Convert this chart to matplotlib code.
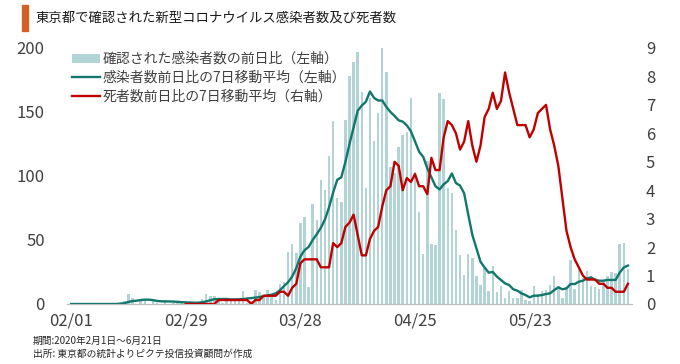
import numpy as np
import pandas as pd
import matplotlib
matplotlib.use("Agg")
import matplotlib.pyplot as plt
from matplotlib.patches import Rectangle, Patch
from matplotlib.lines import Line2D

plt.rcParams['font.family'] = ['Noto Sans CJK JP', 'DejaVu Sans']

# データ (2020/02/01 - 2020/06/16)
dates = pd.date_range('2020-02-01', '2020-06-16')

# 新規感染者数 (前日比)
cases = [0, 0, 0, 0, 0, 0, 0, 0, 0, 0, 0, 0,
         1, 2, 8, 5, 0, 3, 3, 0, 3, 1, 0, 3, 0, 1, 1, 1, 0,
         2, 0, 1, 4, 8, 6, 6, 2, 1, 5, 3, 2, 2, 10, 1, 2, 11, 9, 7, 11, 7, 3,
         16, 17, 41, 47, 40, 63, 68, 13, 78,
         66, 97, 89, 116, 143, 83, 80, 144, 178, 189, 197, 166, 91, 161, 127,
         149, 201, 181, 107, 102, 123, 132, 134, 161, 103, 72, 39, 112, 47, 46,
         165, 160, 91, 87, 58, 38, 23, 39, 36, 22, 15, 28, 10, 30, 9, 14,
         5, 10, 5, 5, 11, 3, 2, 14, 8, 10, 11, 15, 22, 14, 5,
         13, 34, 12, 28, 20, 26, 14, 13, 12, 18, 22, 25, 24, 47, 48, 27]

# 感染者数前日比の7日移動平均 (左軸)
cases_ma = [0, 0, 0, 0, 0, 0, 0, 0, 0, 0, 0, 0,
            0.3, 0.6, 1.6, 2.3, 2.6, 3.1, 3.4, 3.4, 3.0, 2.4, 2.1, 2.0, 2.0, 1.9, 1.7, 1.4, 1.3,
            1.1, 1.0, 1.0, 1.4, 2.0, 3.0, 3.7, 3.9, 3.9, 3.9, 3.6, 3.6, 3.7, 3.9, 4.3, 4.6,
            5.0, 5.4, 6.1, 6.7, 7.3, 8.4,
            10.7, 14.0, 17.0, 21.5, 28.0, 37.0, 42.0, 44.5, 50.0,
            54.5, 59.5, 66.0, 75.5, 87.0, 97.0, 99.0, 111.0, 125.0, 138.0, 151.0, 155.0,
            158.0, 166.0, 161.0, 159.0, 159.0, 154.0, 150.0, 147.0, 143.5, 142.5, 139.5,
            135.0, 127.0, 119.0, 115.0, 106.0, 99.0, 92.0,
            89.5, 93.5, 96.0, 102.0, 94.5, 92.5, 86.5, 70.0, 54.0, 43.5, 33.0, 28.5,
            24.5, 25.0, 21.4, 18.8, 16.1, 14.8, 11.5, 10.4, 8.3, 7.0, 5.2, 6.5, 6.5,
            7.0, 7.8, 8.3, 10.9, 13.0, 11.5,
            12.2, 15.6, 15.6, 17.4, 18.2, 20.0, 20.8, 18.8, 18.2, 18.2, 18.8, 18.8,
            18.8, 24.5, 28.6, 30.0]

# 死者数前日比の7日移動平均 (右軸)
deaths_ma = [None] * 28 + [
    0, 0, 0, 0, 0, 0, 0, 0,
    0.14, 0.14, 0.14, 0.14, 0.14, 0.14, 0.14, 0.14, 0, 0.14, 0.14,
    0.29, 0.29, 0.29, 0.29, 0.43, 0.43, 0.29, 0.57, 0.71,
    1.43, 1.57, 1.57, 1.57, 1.57, 1.29, 1.29, 1.29,
    2.14, 2.0, 2.14, 2.71, 2.86, 3.14, 2.43, 1.71, 1.71, 2.29, 2.57, 2.71,
    3.43, 4.0, 4.14, 5.0, 4.86, 4.0, 4.43, 4.29, 4.57, 4.14, 4.14, 3.86, 5.14, 4.71,
    4.71, 5.86, 6.43, 6.29, 6.0, 5.43, 5.71, 6.43, 5.57, 5.0, 5.57, 6.57, 6.86,
    7.43, 6.86, 7.14, 8.14, 7.43, 6.86, 6.29, 6.29, 6.29, 5.86, 6.14, 6.71, 6.86,
    7.0, 6.14, 5.57, 4.86, 3.71, 2.57, 2.0, 1.57, 1.29, 1.0, 0.86, 0.86, 0.86,
    0.71, 0.71, 0.57, 0.57, 0.43, 0.43, 0.43, 0.71]

tick_pos = [0, 28, 56, 84, 112]
tick_labels = [dates[i].strftime('%m/%d') for i in tick_pos]

x = np.arange(len(dates))
deaths = np.array([np.nan if v is None else v for v in deaths_ma], dtype=float)

c_bar = '#b3d4d7'
c_teal = '#11766c'
c_red = '#c00000'
c_text = '#404040'
num_font = ['Liberation Sans Narrow', 'Noto Sans CJK JP', 'DejaVu Sans']

fig = plt.figure(figsize=(6.8, 3.64), dpi=100)
ax = fig.add_axes([67 / 680, 60 / 364, 565 / 680, 256 / 364])
ax2 = ax.twinx()

ax.bar(x, cases, width=0.6, color=c_bar, zorder=1)
ax.plot(x, cases_ma, color=c_teal, lw=1.7, zorder=3)
ax2.plot(x, deaths, color=c_red, lw=1.7, zorder=3)

ax.set_xlim(-1, 137)
ax.set_ylim(0, 200)
ax2.set_ylim(0, 9)
ax.set_yticks(range(0, 201, 50))
ax2.set_yticks(range(0, 10))
ax.set_xticks(tick_pos)
ax.set_xticklabels(tick_labels)

for a in (ax, ax2):
    for s in ('top', 'left', 'right'):
        a.spines[s].set_visible(False)
    a.spines['bottom'].set_color('#bfbfbf')
    a.tick_params(length=0, labelsize=12, colors=c_text)
    for lab in a.get_xticklabels() + a.get_yticklabels():
        lab.set_family(num_font)
ax.tick_params(axis='y', pad=16)
ax2.tick_params(axis='y', pad=10)
ax.tick_params(axis='x', pad=6)

handles = [Patch(facecolor=c_bar, edgecolor='none'),
           Line2D([], [], color=c_teal, lw=1.7),
           Line2D([], [], color=c_red, lw=1.7)]
labels = ['確認された感染者数の前日比（左軸）',
          '感染者数前日比の7日移動平均（左軸）',
          '死者数前日比の7日移動平均（右軸）']
leg = fig.legend(handles, labels, loc='upper left', bbox_to_anchor=(72 / 680, 1 - 52 / 364),
                 frameon=False, fontsize=10, handlelength=2.0, handleheight=0.6,
                 handletextpad=0.2, labelspacing=0.33, borderpad=0, borderaxespad=0)
for t in leg.get_texts():
    t.set_color(c_text)

# タイトル
fig.patches.append(Rectangle((22 / 680, 1 - 31 / 364), 6 / 680, 26 / 364,
                             transform=fig.transFigure, color='#d65f27'))
fig.text(35 / 680, 1 - 18 / 364, '東京都で確認された新型コロナウイルス感染者数及び死者数',
         fontsize=9.6, va='center', ha='left', color='#1a1a1a')

fig.text(33 / 680, 1 - 341 / 364, '期間:2020年2月1日～6月21日', fontsize=7,
         va='center', ha='left', color='#262626')
fig.text(33 / 680, 1 - 354 / 364, '出所: 東京都の統計よりピクテ投信投資顧問が作成', fontsize=7,
         va='center', ha='left', color='#262626')

fig.savefig('out.png', dpi=100)
